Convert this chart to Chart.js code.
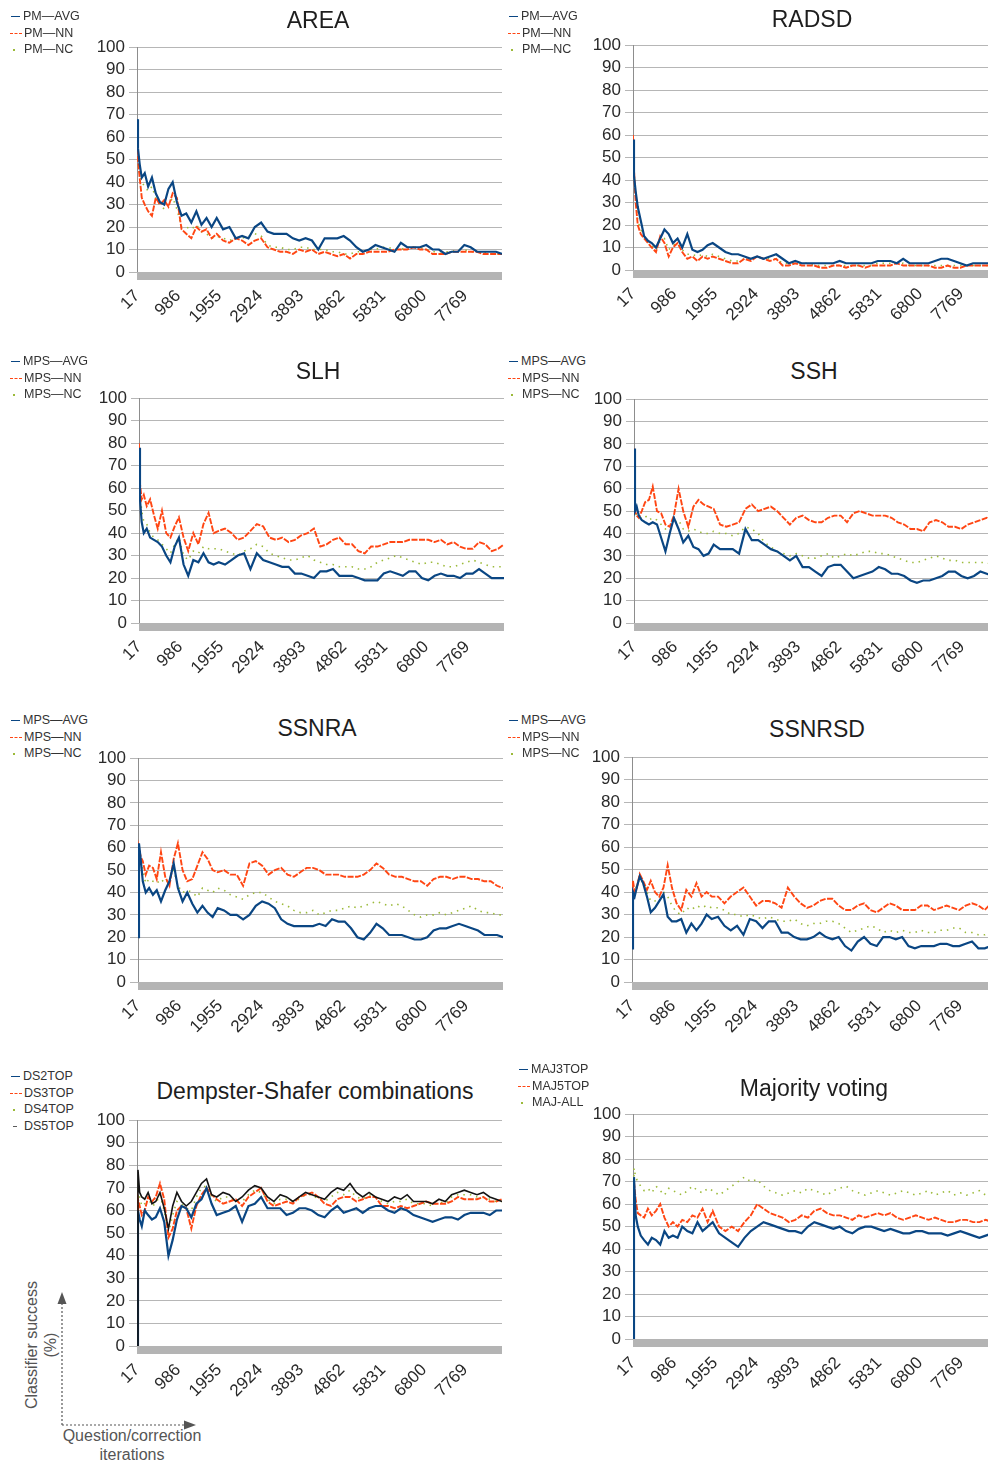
<!DOCTYPE html>
<html><head><meta charset="utf-8">
<script src="https://cdn.jsdelivr.net/npm/chart.js@4/dist/chart.umd.min.js"></script>
<style>
html,body{margin:0;padding:0;background:#fff;}
#page{width:988px;height:1461px;position:relative;overflow:hidden;background:#fff;font-family:"Liberation Sans",Arial,sans-serif;}
canvas{position:absolute;}
.title{position:absolute;font-size:23px;color:#1e1e1e;white-space:nowrap;transform:translate(-50%,-50%);}
.leg{position:absolute;font-size:12.5px;color:#333;white-space:nowrap;height:16px;line-height:16px;}
.sw{display:inline-block;width:12px;height:0;vertical-align:middle;margin-right:2px;}
.note{position:absolute;font-size:16px;color:#555;text-align:center;line-height:19px;white-space:nowrap;}
</style></head><body><div id="page"></div>
<script>
// ---------------- DATA ----------------
const iterations = [17, 40, 80, 130, 200, 280, 370, 460, 560, 660, 760, 860, 960, 1070, 1180, 1300, 1420, 1540, 1660, 1780, 1900, 2050, 2200, 2350, 2500, 2650, 2800, 2950, 3100, 3250, 3400, 3550, 3700, 3850, 4000, 4150, 4300, 4450, 4600, 4750, 4900, 5050, 5200, 5350, 5500, 5650, 5800, 5950, 6100, 6250, 6400, 6550, 6700, 6850, 7000, 7150, 7300, 7450, 7600, 7750, 7900, 8050, 8200, 8350, 8500, 8640];
const xTickValues = [17, 986, 1955, 2924, 3893, 4862, 5831, 6800, 7769];
const yTickValues = [0, 10, 20, 30, 40, 50, 60, 70, 80, 90, 100];

const titles = ["AREA", "RADSD", "SLH", "SSH", "SSNRA", "SSNRSD", "Dempster-Shafer combinations", "Majority voting"];
const pmLabels = ["PM\u2014AVG", "PM\u2014NN", "PM\u2014NC"];
const mpsLabels = ["MPS\u2014AVG", "MPS\u2014NN", "MPS\u2014NC"];
const dsLabels = ["DS2TOP", "DS3TOP", "DS4TOP", "DS5TOP"];
const majLabels = ["MAJ3TOP", "MAJ5TOP", "MAJ-ALL"];
const yAxisNote = ["Classifier success", "(%)"];
const xAxisNote = ["Question/correction", "iterations"];

const areaAvg = [68, 55, 48, 42, 44, 38, 42, 35, 31, 30, 37, 40, 31, 25, 26, 22, 27, 21, 24, 20, 24, 19, 20, 15, 16, 15, 20, 22, 18, 17, 17, 17, 15, 14, 15, 14, 10, 15, 15, 15, 16, 14, 11, 9, 10, 12, 11, 10, 9, 13, 11, 11, 11, 12, 10, 10, 8, 9, 9, 12, 11, 9, 9, 9, 9, 8];
const areaNn = [65, 50, 42, 33, 30, 27, 25, 33, 30, 32, 29, 35, 33, 19, 17, 15, 20, 18, 19, 15, 17, 14, 13, 15, 14, 12, 14, 15, 11, 10, 9, 9, 8, 10, 9, 10, 8, 9, 8, 7, 8, 6, 8, 8, 9, 9, 9, 9, 10, 10, 10, 11, 10, 10, 8, 8, 8, 9, 9, 9, 9, 9, 8, 8, 8, 8];
const areaNc = [62, 48, 44, 40, 38, 36, 38, 33, 30, 28, 30, 33, 28, 20, 20, 19, 21, 18, 17, 15, 16, 15, 14, 15, 15, 16, 17, 16, 12, 11, 11, 10, 10, 11, 11, 10, 10, 10, 9, 9, 8, 8, 9, 9, 10, 10, 11, 11, 10, 10, 11, 11, 11, 10, 9, 9, 9, 9, 10, 10, 9, 9, 9, 8, 8, 8];

const radsdAvg = [58, 42, 35, 28, 22, 15, 13, 12, 10, 14, 18, 16, 12, 14, 10, 16, 9, 8, 9, 11, 12, 10, 8, 7, 7, 6, 5, 6, 5, 6, 7, 5, 3, 4, 3, 3, 3, 3, 3, 3, 4, 3, 3, 3, 3, 3, 4, 4, 4, 3, 5, 3, 3, 3, 3, 4, 5, 5, 4, 3, 2, 3, 3, 3, 3, 3];
const radsdNn = [60, 45, 30, 20, 16, 14, 12, 10, 8, 15, 12, 6, 10, 12, 8, 5, 6, 4, 6, 5, 6, 5, 4, 3, 3, 5, 4, 6, 5, 4, 5, 2, 2, 3, 2, 2, 2, 1, 1, 2, 2, 1, 2, 2, 1, 2, 2, 2, 2, 3, 2, 2, 2, 2, 2, 1, 1, 2, 1, 1, 2, 2, 2, 2, 2, 2];
const radsdNc = [55, 44, 33, 22, 18, 15, 13, 11, 9, 13, 14, 9, 11, 12, 9, 7, 7, 6, 7, 6, 7, 6, 5, 4, 4, 5, 5, 6, 5, 5, 5, 3, 3, 3, 3, 3, 2, 2, 2, 2, 2, 2, 2, 2, 2, 2, 3, 3, 3, 3, 3, 2, 2, 2, 2, 2, 2, 2, 2, 2, 2, 2, 2, 2, 2, 2];

const slhAvg = [78, 55, 45, 40, 42, 38, 37, 36, 34, 30, 27, 34, 38, 26, 21, 28, 27, 31, 27, 26, 27, 26, 28, 30, 31, 24, 31, 28, 27, 26, 25, 25, 22, 22, 21, 20, 23, 23, 24, 21, 21, 21, 20, 19, 19, 19, 22, 23, 22, 21, 23, 23, 20, 19, 21, 22, 21, 21, 20, 22, 22, 24, 22, 20, 20, 20];
const slhNn = [80, 62, 55, 57, 52, 55, 48, 42, 50, 40, 38, 43, 47, 38, 32, 40, 35, 44, 49, 40, 41, 42, 40, 37, 38, 41, 44, 43, 38, 37, 38, 36, 37, 39, 40, 42, 34, 35, 37, 38, 35, 35, 32, 31, 34, 34, 35, 36, 36, 36, 37, 37, 37, 37, 36, 37, 35, 36, 34, 33, 33, 36, 35, 32, 33, 35];
const slhNc = [75, 58, 50, 45, 44, 40, 38, 37, 35, 33, 31, 35, 38, 30, 28, 32, 31, 34, 33, 33, 33, 32, 31, 30, 32, 33, 35, 34, 31, 30, 29, 28, 28, 29, 30, 28, 27, 26, 26, 25, 25, 25, 24, 24, 25, 27, 28, 29, 30, 29, 28, 27, 26, 27, 27, 26, 25, 25, 26, 27, 28, 27, 26, 25, 25, 25];

const sshAvg = [78, 50, 52, 48, 46, 45, 44, 45, 44, 38, 32, 40, 47, 42, 36, 39, 34, 33, 30, 31, 35, 33, 33, 33, 31, 42, 37, 37, 35, 33, 32, 30, 28, 30, 25, 25, 23, 21, 25, 26, 26, 23, 20, 21, 22, 23, 25, 24, 22, 22, 21, 19, 18, 19, 19, 20, 21, 23, 23, 21, 20, 21, 23, 22, 21, 22];
const sshNn = [78, 50, 48, 47, 50, 54, 55, 61, 50, 49, 44, 43, 48, 60, 50, 43, 52, 55, 53, 52, 51, 44, 43, 44, 45, 51, 53, 50, 51, 52, 50, 47, 44, 47, 48, 46, 45, 45, 47, 48, 48, 45, 49, 50, 49, 48, 48, 48, 47, 45, 44, 42, 42, 41, 45, 46, 45, 43, 43, 42, 44, 45, 46, 47, 45, 47];
const sshNc = [75, 50, 48, 47, 47, 48, 46, 47, 46, 44, 42, 43, 45, 46, 42, 41, 42, 41, 40, 40, 41, 40, 40, 39, 40, 43, 42, 40, 36, 34, 32, 31, 30, 31, 30, 29, 29, 30, 31, 29, 30, 31, 30, 31, 32, 32, 31, 31, 30, 29, 28, 27, 27, 28, 29, 30, 29, 28, 28, 27, 27, 27, 27, 27, 26, 27];

const ssnraAvg = [20, 62, 55, 45, 40, 42, 39, 41, 36, 41, 45, 53, 42, 36, 40, 35, 31, 34, 31, 29, 33, 32, 30, 30, 28, 30, 34, 36, 35, 33, 28, 26, 25, 25, 25, 25, 26, 25, 28, 27, 27, 24, 20, 19, 22, 26, 24, 21, 21, 21, 20, 19, 19, 20, 23, 24, 24, 25, 26, 25, 24, 23, 21, 21, 21, 20];
const ssnraNn = [48, 60, 56, 54, 48, 52, 51, 46, 58, 47, 43, 55, 62, 50, 45, 46, 52, 58, 55, 50, 49, 50, 48, 48, 43, 53, 54, 52, 48, 50, 51, 48, 47, 49, 51, 51, 50, 48, 48, 48, 47, 47, 47, 48, 50, 53, 51, 48, 47, 47, 46, 45, 45, 43, 46, 47, 47, 46, 47, 47, 46, 46, 45, 45, 43, 42];
const ssnraNc = [30, 58, 54, 50, 44, 46, 45, 44, 46, 44, 46, 50, 43, 40, 41, 40, 38, 42, 41, 40, 42, 41, 39, 38, 37, 39, 40, 40, 38, 36, 35, 34, 32, 31, 31, 32, 30, 31, 32, 32, 33, 34, 33, 34, 35, 36, 35, 34, 35, 34, 32, 30, 29, 30, 30, 31, 30, 31, 32, 33, 34, 32, 31, 31, 30, 30];

const ssnrsdAvg = [15, 40, 38, 42, 47, 44, 38, 31, 33, 36, 39, 29, 27, 27, 28, 22, 26, 23, 26, 30, 28, 29, 25, 23, 25, 21, 28, 27, 24, 27, 27, 22, 22, 20, 19, 19, 20, 22, 20, 19, 20, 16, 14, 18, 20, 17, 16, 20, 20, 19, 20, 16, 15, 16, 16, 16, 17, 17, 16, 16, 17, 18, 15, 15, 16, 15];
const ssnrsdNn = [15, 45, 40, 42, 48, 45, 41, 45, 40, 38, 42, 52, 42, 35, 32, 41, 38, 44, 38, 40, 38, 38, 35, 38, 40, 42, 38, 34, 36, 36, 35, 33, 42, 38, 35, 33, 34, 36, 37, 37, 34, 32, 32, 34, 35, 32, 31, 33, 35, 34, 32, 32, 32, 34, 34, 32, 33, 34, 33, 32, 34, 35, 34, 32, 35, 33];
const ssnrsdNc = [20, 42, 40, 43, 46, 44, 40, 36, 36, 38, 40, 38, 34, 31, 30, 33, 32, 34, 33, 34, 33, 33, 32, 30, 30, 29, 30, 29, 28, 29, 28, 27, 27, 28, 26, 25, 26, 26, 27, 27, 26, 24, 22, 23, 24, 25, 24, 22, 23, 22, 23, 22, 22, 23, 22, 22, 23, 23, 24, 24, 22, 22, 21, 21, 22, 21];

const ds2top = [0, 60, 56, 53, 60, 58, 56, 57, 61, 55, 40, 47, 56, 62, 61, 57, 63, 65, 70, 63, 58, 59, 60, 62, 55, 62, 63, 66, 61, 61, 61, 58, 59, 61, 61, 60, 58, 57, 60, 62, 59, 60, 61, 59, 61, 62, 62, 60, 59, 61, 60, 58, 57, 56, 55, 56, 57, 57, 56, 58, 59, 59, 59, 58, 60, 60];
const ds3top = [0, 65, 62, 58, 60, 66, 64, 66, 72, 65, 48, 52, 60, 62, 61, 52, 62, 67, 70, 67, 65, 63, 64, 65, 62, 66, 68, 70, 64, 62, 63, 64, 63, 66, 67, 68, 66, 63, 62, 65, 66, 66, 64, 65, 66, 66, 62, 62, 61, 62, 61, 62, 63, 64, 63, 63, 63, 64, 66, 65, 65, 65, 66, 64, 64, 65];
const ds4top = [0, 72, 66, 62, 63, 66, 62, 63, 67, 60, 50, 58, 64, 63, 61, 60, 66, 70, 71, 66, 64, 66, 66, 64, 64, 67, 69, 68, 65, 63, 65, 65, 64, 65, 67, 67, 65, 64, 66, 68, 67, 69, 66, 65, 67, 66, 64, 63, 64, 64, 65, 63, 63, 63, 62, 64, 63, 66, 67, 67, 67, 66, 66, 65, 64, 64];
const ds5top = [0, 78, 68, 66, 65, 68, 63, 64, 68, 61, 52, 62, 68, 64, 62, 64, 68, 72, 74, 67, 66, 68, 67, 64, 66, 69, 71, 70, 66, 64, 67, 66, 64, 66, 68, 67, 66, 65, 68, 70, 69, 72, 68, 66, 68, 66, 65, 64, 66, 65, 67, 64, 64, 64, 63, 65, 64, 67, 68, 69, 68, 67, 68, 66, 65, 64];

const maj3top = [0, 72, 55, 50, 46, 44, 42, 45, 44, 42, 48, 45, 46, 45, 50, 48, 47, 52, 48, 50, 52, 47, 45, 43, 41, 45, 48, 50, 52, 51, 50, 49, 48, 48, 47, 50, 52, 51, 50, 49, 50, 48, 47, 49, 50, 50, 49, 48, 49, 48, 47, 47, 48, 48, 47, 47, 47, 46, 47, 48, 47, 46, 45, 46, 47, 47];
const maj5top = [0, 70, 62, 56, 55, 54, 58, 55, 57, 60, 54, 50, 52, 50, 53, 52, 55, 54, 58, 52, 57, 50, 48, 50, 48, 52, 55, 60, 58, 56, 55, 54, 52, 53, 55, 54, 57, 58, 56, 55, 55, 54, 53, 55, 54, 55, 56, 55, 56, 54, 53, 54, 55, 54, 53, 54, 53, 52, 52, 53, 53, 52, 52, 53, 52, 53];
const majAll = [0, 76, 72, 70, 68, 66, 67, 65, 68, 66, 64, 67, 66, 65, 64, 66, 68, 66, 65, 67, 66, 64, 66, 68, 70, 72, 70, 71, 68, 66, 65, 64, 65, 66, 65, 67, 66, 65, 64, 66, 67, 68, 66, 65, 64, 65, 66, 65, 64, 65, 66, 65, 64, 65, 66, 64, 65, 66, 64, 65, 64, 65, 66, 64, 65, 65];

// ---------------- STYLES / LAYOUT ----------------
const FONT = '"Liberation Sans", Arial, sans-serif';
const STY = {
  navy:  {color: '#0a4683', width: 2.2, dash: [], sw: 'solid'},
  orange:{color: '#ff4613', width: 1.9, dash: [6, 1.5], sw: 'dashed'},
  green: {color: '#9cba3a', width: 1.6, dash: [1.5, 5], sw: 'dot'},
  black: {color: '#141414', width: 1.6, dash: [], sw: 'short'}
};

const panels = [
  {title: titles[0], tx: 318, ty: 20, cl: 88, pl: 137, pt: 45, pb: 272, lx: 10, ly: 8,
   series: [[pmLabels[0], areaAvg, 'navy'], [pmLabels[1], areaNn, 'orange'], [pmLabels[2], areaNc, 'green']]},
  {title: titles[1], tx: 812, ty: 19, cl: 585, pl: 633, pt: 43, pb: 270, lx: 508, ly: 8,
   series: [[pmLabels[0], radsdAvg, 'navy'], [pmLabels[1], radsdNn, 'orange'], [pmLabels[2], radsdNc, 'green']]},
  {title: titles[2], tx: 318, ty: 371, cl: 88, pl: 139, pt: 396, pb: 623, lx: 10, ly: 353,
   series: [[mpsLabels[0], slhAvg, 'navy'], [mpsLabels[1], slhNn, 'orange'], [mpsLabels[2], slhNc, 'green']]},
  {title: titles[3], tx: 814, ty: 371, cl: 585, pl: 634, pt: 397, pb: 623, lx: 508, ly: 353,
   series: [[mpsLabels[0], sshAvg, 'navy'], [mpsLabels[1], sshNn, 'orange'], [mpsLabels[2], sshNc, 'green']]},
  {title: titles[4], tx: 317, ty: 728, cl: 88, pl: 138, pt: 756, pb: 982, lx: 10, ly: 712,
   series: [[mpsLabels[0], ssnraAvg, 'navy'], [mpsLabels[1], ssnraNn, 'orange'], [mpsLabels[2], ssnraNc, 'green']]},
  {title: titles[5], tx: 817, ty: 729, cl: 585, pl: 632, pt: 755, pb: 982, lx: 508, ly: 712,
   series: [[mpsLabels[0], ssnrsdAvg, 'navy'], [mpsLabels[1], ssnrsdNn, 'orange'], [mpsLabels[2], ssnrsdNc, 'green']]},
  {title: titles[6], tx: 315, ty: 1091, cl: 88, pl: 137, pt: 1118, pb: 1346, lx: 10, ly: 1068,
   series: [[dsLabels[0], ds2top, 'navy'], [dsLabels[1], ds3top, 'orange'], [dsLabels[2], ds4top, 'green'], [dsLabels[3], ds5top, 'black']],
   order: [1, 2, 3, 0]},
  {title: titles[7], tx: 814, ty: 1088, cl: 585, pl: 633, pt: 1112, pb: 1339, lx: 518, ly: 1061,
   series: [[majLabels[0], maj3top, 'navy'], [majLabels[1], maj5top, 'orange'], [majLabels[2], majAll, 'green']]}
];

const PLOT_W = 365, TOP_PAD = 12, X_AXIS_H = 75, RIGHT_PAD = 6;
const page = document.getElementById('page');

const floorPlugin = {
  id: 'floorBar',
  beforeDatasetsDraw(chart) {
    const a = chart.chartArea, ctx = chart.ctx;
    ctx.save();
    ctx.fillStyle = '#b4b4b4';
    ctx.fillRect(a.left, a.bottom, a.right - a.left, 8);
    ctx.restore();
  }
};

function addLegend(p) {
  p.series.forEach((s, i) => {
    const st = STY[s[2]];
    const d = document.createElement('div');
    d.className = 'leg';
    d.style.left = p.lx + 'px';
    d.style.top = (p.ly + i * 16.5) + 'px';
    const sw = document.createElement('span');
    sw.className = 'sw';
    if (st.sw === 'solid') { sw.style.borderTop = '1.5px solid ' + st.color; sw.style.width = '9px'; sw.style.marginLeft = '1px'; sw.style.marginRight = '3px'; }
    else if (st.sw === 'dashed') { sw.style.borderTop = '1px dashed ' + st.color; }
    else if (st.sw === 'dot') { sw.style.borderTop = '0'; sw.style.width = '2px'; sw.style.height = '2px'; sw.style.background = st.color; sw.style.marginLeft = '3px'; sw.style.marginRight = '9px'; }
    else { sw.style.borderTop = '1.5px solid ' + st.color; sw.style.width = '4px'; sw.style.marginLeft = '3px'; sw.style.marginRight = '7px'; sw.style.opacity = '0.7'; }
    d.appendChild(sw);
    d.appendChild(document.createTextNode(s[0]));
    page.appendChild(d);
  });
}

function addTitle(p) {
  const t = document.createElement('div');
  t.className = 'title';
  t.style.left = p.tx + 'px';
  t.style.top = p.ty + 'px';
  t.textContent = p.title;
  page.appendChild(t);
}

function makeChart(p) {
  const plotH = p.pb - p.pt;
  const W = p.pl + PLOT_W + RIGHT_PAD - p.cl;
  const H = TOP_PAD + plotH + X_AXIS_H;
  const c = document.createElement('canvas');
  c.width = W; c.height = H;
  c.style.left = p.cl + 'px';
  c.style.top = (p.pt - TOP_PAD) + 'px';
  c.style.width = W + 'px'; c.style.height = H + 'px';
  page.appendChild(c);
  const datasets = p.series.map((s, i) => {
    const st = STY[s[2]];
    return {
      label: s[0],
      data: iterations.map((x, k) => ({x: x, y: s[1][k]})),
      borderColor: st.color,
      borderWidth: st.width,
      borderDash: st.dash,
      pointRadius: 0,
      tension: 0,
      fill: false,
      order: p.order ? p.order[i] : i
    };
  });
  new Chart(c, {
    type: 'line',
    data: {datasets: datasets},
    options: {
      responsive: false,
      animation: false,
      events: [],
      devicePixelRatio: 1,
      layout: {padding: {top: TOP_PAD, right: RIGHT_PAD, left: 0, bottom: 0}},
      plugins: {legend: {display: false}, tooltip: {enabled: false}, title: {display: false}},
      scales: {
        x: {
          type: 'linear', min: 17, max: 8640,
          afterBuildTicks: s => { s.ticks = xTickValues.map(v => ({value: v})); },
          afterFit: s => { s.height = X_AXIS_H; },
          ticks: {minRotation: 45, maxRotation: 45, autoSkip: false, padding: 14,
                  font: {size: 17, family: FONT}, color: '#2a2a2a', callback: v => String(v)},
          grid: {display: false, drawTicks: false},
          border: {display: false}
        },
        y: {
          min: 0, max: 100,
          afterBuildTicks: s => { s.ticks = yTickValues.map(v => ({value: v})); },
          afterFit: s => { s.width = p.pl - p.cl; },
          ticks: {autoSkip: false, font: {size: 17, family: FONT}, color: '#2a2a2a', padding: 4, callback: v => String(v)},
          grid: {color: '#b6b6b6', lineWidth: 1, tickLength: 8},
          border: {display: true, color: '#8d8d8d', width: 1}
        }
      }
    },
    plugins: [floorPlugin]
  });
}

panels.forEach(p => { makeChart(p); addTitle(p); addLegend(p); });

// axis explanation under the Dempster-Shafer panel
const yn = document.createElement('div');
yn.className = 'note';
yn.style.left = '41px'; yn.style.top = '1345px';
yn.style.transform = 'translate(-50%,-50%) rotate(-90deg)';
yn.innerHTML = yAxisNote[0] + '<br>' + yAxisNote[1];
page.appendChild(yn);
const xn = document.createElement('div');
xn.className = 'note';
xn.style.left = '132px'; xn.style.top = '1426px';
xn.style.transform = 'translateX(-50%)';
xn.innerHTML = xAxisNote[0] + '<br>' + xAxisNote[1];
page.appendChild(xn);
const svgNS = 'http://www.w3.org/2000/svg';
const svg = document.createElementNS(svgNS, 'svg');
svg.setAttribute('width', '220'); svg.setAttribute('height', '160');
svg.style.position = 'absolute'; svg.style.left = '0px'; svg.style.top = '1280px';
svg.innerHTML =
  '<line x1="62" y1="145" x2="62" y2="22" stroke="#555" stroke-width="1.2" stroke-dasharray="2,2"/>' +
  '<polygon points="62,12 57.5,24 66.5,24" fill="#555"/>' +
  '<line x1="62" y1="145" x2="186" y2="145" stroke="#555" stroke-width="1.2" stroke-dasharray="2,2"/>' +
  '<polygon points="196,145 184,140.5 184,149.5" fill="#555"/>';
page.appendChild(svg);
</script>
</body></html>
